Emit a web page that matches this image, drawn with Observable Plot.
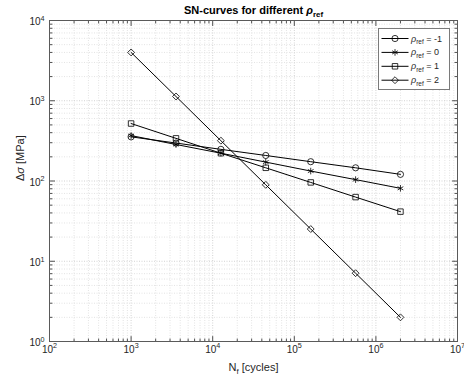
<!DOCTYPE html>
<html><head><meta charset="utf-8">
<script src="https://cdn.jsdelivr.net/npm/d3@7"></script>
<script src="https://cdn.jsdelivr.net/npm/@observablehq/plot@0.6"></script>
<style>
body{margin:0;background:#fff;}
#chart{width:464px;height:380px;}
</style></head><body><div id="chart"></div>
<script>
// ---- data ----
const cycles = [1000, 3550, 12600, 44700, 159000, 564000, 2000000];
const rhoRef = ["-1", "0", "1", "2"];
const stressM1 = [355, 297, 248, 208, 174, 146, 121];
const stress0 = [368, 285, 222, 172, 133, 104, 81];
const stress1 = [520, 340, 222, 146, 96, 63, 41.5];
const stress2 = [4000, 1130, 318, 89.6, 25.2, 7.1, 2.0];
const markers = ["circle", "asterisk", "square", "diamond2"];
const xDecades = [1e2, 1e3, 1e4, 1e5, 1e6, 1e7];
const yDecades = [1e0, 1e1, 1e2, 1e3, 1e4];
const titleText = "SN-curves for different ρ_{ref}";
const xLabel = "N_{f} [cycles]";
const yLabel = "Δσ [MPa]";

const series = [
  {rho: rhoRef[0], S: stressM1},
  {rho: rhoRef[1], S: stress0},
  {rho: rhoRef[2], S: stress1},
  {rho: rhoRef[3], S: stress2}
];
const rows = series.flatMap(s => cycles.map((N, i) => ({N, S: s.S[i], rho: s.rho})));

const minorOf = dec => dec.slice(0, -1).flatMap(d => [2,3,4,5,6,7,8,9].map(k => d * k));
const xMinor = minorOf(xDecades);
const yMinor = minorOf(yDecades);

// ---- layout ----
const W = 464, H = 380, mL = 49, mR = 7, mT = 20, mB = 39;
const FONT = "'Liberation Sans', Arial, Helvetica, sans-serif";
const INK = "#262626";
const tickShape = {draw(ctx, l) { ctx.moveTo(0, 0); ctx.lineTo(0, -l); }};
const sup = d => `10^{${Math.round(Math.log10(d))}}`;

function ticks(values, ch, anchor, rot, len) {
  return Plot.vector(values, {[ch]: d => d, frameAnchor: anchor, rotate: rot, length: len,
    anchor: "start", shape: tickShape, stroke: INK, strokeWidth: 0.8});
}

const plot = Plot.plot({
  width: W, height: H,
  marginLeft: mL, marginRight: mR, marginTop: mT, marginBottom: mB,
  x: {type: "log", domain: [1e2, 1e7], axis: null},
  y: {type: "log", domain: [1e0, 1e4], axis: null},
  symbol: {domain: rhoRef, range: markers},
  style: {fontFamily: FONT, fontSize: "10px", background: "white", color: INK},
  marks: [
    Plot.ruleX(xMinor, {x: d => d, stroke: "#e3e3e3", strokeDasharray: "1,1.5"}),
    Plot.ruleY(yMinor, {y: d => d, stroke: "#e3e3e3", strokeDasharray: "1,1.5"}),
    Plot.ruleX(xDecades, {x: d => d, stroke: "#d2d2d2", strokeDasharray: "1,1.5"}),
    Plot.ruleY(yDecades, {y: d => d, stroke: "#d2d2d2", strokeDasharray: "1,1.5"}),
    Plot.line(rows, {x: "N", y: "S", z: "rho", stroke: "black", strokeWidth: 1}),
    Plot.dot(rows, {x: "N", y: "S", symbol: "rho", stroke: "black", fill: "none", r: 3.1, strokeWidth: 0.8}),
    ticks(xDecades, "x", "bottom", 0, 5),
    ticks(xDecades, "x", "top", 180, 5),
    ticks(xMinor, "x", "bottom", 0, 2.5),
    ticks(xMinor, "x", "top", 180, 2.5),
    ticks(yDecades, "y", "left", 90, 5),
    ticks(yDecades, "y", "right", -90, 5),
    ticks(yMinor, "y", "left", 90, 2.5),
    ticks(yMinor, "y", "right", -90, 2.5),
    Plot.frame({stroke: "#5a5a5a", strokeWidth: 1}),
    Plot.text(xDecades, {x: d => d, frameAnchor: "bottom", lineAnchor: "bottom", dy: 11, text: sup, fill: INK, fontSize: 10}),
    Plot.text(yDecades, {y: d => d, frameAnchor: "left", textAnchor: "end", lineAnchor: "bottom", dx: -5, dy: 4.5, text: sup, fill: INK, fontSize: 10}),
    Plot.text([titleText], {frameAnchor: "top", lineAnchor: "bottom", dy: -7, text: d => d, fontWeight: "bold", fontSize: 11, fill: "black"}),
    Plot.text([xLabel], {frameAnchor: "bottom", lineAnchor: "bottom", dy: 29, text: d => d, fontSize: 11, fill: INK}),
    Plot.text([yLabel], {frameAnchor: "left", lineAnchor: "bottom", rotate: -90, dx: -25.5, text: d => d, fontSize: 11, fill: INK})
  ]
});
document.getElementById("chart").appendChild(plot);

// ---- legend (drawn in the same svg) ----
const svg = d3.select(plot);
const symType = {circle: d3.symbolCircle, asterisk: d3.symbolAsterisk, square: d3.symbolSquare, diamond2: d3.symbolDiamond2};
const bx = W - mR - 8 - 71, by = mT + 8;
const lg = svg.append("g").attr("transform", `translate(${bx},${by})`).attr("text-anchor", "start");
lg.append("rect").attr("x", 0.5).attr("y", 0.5).attr("width", 71).attr("height", 61)
  .attr("fill", "white").attr("stroke", "#7a7a7a").attr("stroke-width", 1);
series.forEach((s, i) => {
  const cy = 10.5 + i * 13.9;
  lg.append("line").attr("x1", 3.5).attr("x2", 30.5).attr("y1", cy).attr("y2", cy)
    .attr("stroke", "black").attr("stroke-width", 1);
  lg.append("path").attr("transform", `translate(17,${cy})`)
    .attr("d", d3.symbol(symType[markers[i]], Math.PI * 3.1 * 3.1)())
    .attr("fill", "none").attr("stroke", "black").attr("stroke-width", 0.8);
  lg.append("text").attr("x", 33).attr("y", cy + 3).attr("font-size", 9).attr("fill", INK)
    .attr("text-anchor", "start").attr("font-family", FONT).text(`ρ_{ref} = ${s.rho}`);
});

// ---- rich text: ^{sup} and _{sub}, italic greek ----
const NS = "http://www.w3.org/2000/svg";
function richify(el) {
  const s = el.textContent;
  if (!/[\^_]\{|[ρσ]/.test(s)) return;
  const fs = parseFloat(el.getAttribute("font-size")) || parseFloat(getComputedStyle(el).fontSize) || 10;
  const parts = [];
  const re = /([\^_])\{([^}]*)\}/g;
  let last = 0, m;
  while ((m = re.exec(s))) {
    if (m.index > last) parts.push({t: s.slice(last, m.index), k: ""});
    parts.push({t: m[2], k: m[1]});
    last = re.lastIndex;
  }
  if (last < s.length) parts.push({t: s.slice(last), k: ""});
  const pieces = [];
  for (const p of parts) {
    if (p.k) { pieces.push(p); continue; }
    p.t.split(/([ρσ])/).filter(x => x).forEach(x => pieces.push({t: x, k: "", it: /[ρσ]/.test(x)}));
  }
  el.textContent = "";
  let shift = 0;
  for (const p of pieces) {
    const ts = document.createElementNS(NS, "tspan");
    const target = p.k === "^" ? -0.42 * fs : p.k === "_" ? 0.3 * fs : 0;
    if (target - shift !== 0) ts.setAttribute("dy", target - shift);
    shift = target;
    if (p.k) ts.setAttribute("font-size", 0.72 * fs);
    if (p.it) ts.setAttribute("font-style", "italic");
    ts.textContent = p.t;
    el.appendChild(ts);
  }
}
plot.querySelectorAll("text").forEach(richify);
</script></body></html>
